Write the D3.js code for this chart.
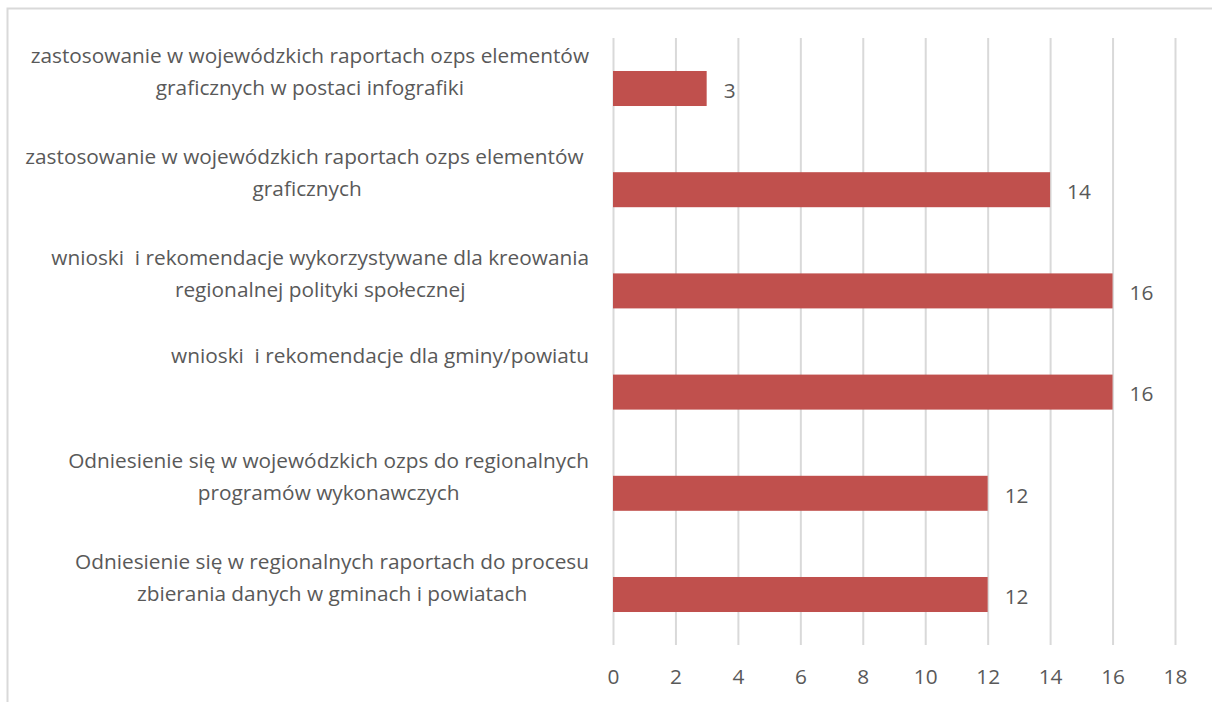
<!DOCTYPE html>
<html>
<head>
<meta charset="utf-8">
<script src="https://cdn.jsdelivr.net/npm/d3@7"></script>
<style>
  body { margin: 0; background: #fff; }
  text { font-family: "Open Sans", sans-serif; fill: #595959; white-space: pre; }
</style>
</head>
<body>
<svg id="chart" width="1212" height="702"></svg>
<script>
// dane z wykresu (od góry do dołu)
const categories = [
  ["zastosowanie w wojewódzkich raportach ozps elementów", "graficznych w postaci infografiki"],
  ["zastosowanie w wojewódzkich raportach ozps elementów ", "graficznych"],
  ["wnioski  i rekomendacje wykorzystywane dla kreowania", "regionalnej polityki społecznej"],
  ["wnioski  i rekomendacje dla gminy/powiatu"],
  ["Odniesienie się w wojewódzkich ozps do regionalnych", "programów wykonawczych"],
  ["Odniesienie się w regionalnych raportach do procesu", "zbierania danych w gminach i powiatach"]
]
const values = [3, 14, 16, 16, 12, 12]
const xTicks = [0, 2, 4, 6, 8, 10, 12, 14, 16, 18]

const svg = d3.select('#chart')
const margin = { top: 38, bottom: 57, left: 613, right: 37 }
const width = +svg.attr('width')
const height = +svg.attr('height')
const fontSize = '20.8px'
const labelRight = 589 // prawa krawędź bloku etykiet

// ramka wykresu (tylko góra i lewa strona widoczne)
svg.append('path')
  .attr('d', `M7.5,${height} V8.5 H${width}`)
  .attr('fill', 'none')
  .attr('stroke', '#d9d9d9')
  .attr('stroke-width', 2)

const x = d3.scaleLinear()
  .domain([0, 18])
  .range([margin.left, width - margin.right])

const y = d3.scaleBand()
  .domain(d3.range(values.length))
  .range([margin.top, height - margin.bottom])
  .paddingInner(0.654)
  .paddingOuter(0.326)

// siatka pionowa
svg.append('g')
  .selectAll('line')
  .data(xTicks)
  .enter()
  .append('line')
  .attr('x1', d => x(d) + 0.5)
  .attr('x2', d => x(d) + 0.5)
  .attr('y1', margin.top)
  .attr('y2', height - margin.bottom)
  .attr('stroke', '#d9d9d9')
  .attr('stroke-width', 2)

// oś X
const xAxis = d3.axisBottom(x).tickValues(xTicks).tickSize(0).tickPadding(24)
const gx = svg.append('g')
  .attr('transform', `translate(0,${height - margin.bottom})`)
  .call(xAxis)
gx.select('.domain').remove()
gx.selectAll('text')
  .style('font-family', '"Open Sans", sans-serif')
  .style('font-size', fontSize)
  .attr('fill', '#595959')

// słupki
svg.append('g')
  .selectAll('rect')
  .data(values)
  .enter()
  .append('rect')
  .attr('x', x(0))
  .attr('y', (d, i) => y(i))
  .attr('width', d => x(d) - x(0))
  .attr('height', y.bandwidth())
  .attr('fill', '#c0504d')

// etykiety wartości
svg.append('g')
  .selectAll('text')
  .data(values)
  .enter()
  .append('text')
  .attr('x', d => x(d) + 17)
  .attr('y', (d, i) => y(i) + y.bandwidth() / 2 + 2)
  .attr('dy', '0.35em')
  .style('font-size', fontSize)
  .text(d => d)

// etykiety kategorii - linie wyśrodkowane w bloku wyrównanym do prawej
const labels = svg.append('g')
  .selectAll('text')
  .data(categories)
  .enter()
  .append('text')
  .attr('text-anchor', 'middle')
  .style('font-size', fontSize)

labels.selectAll('tspan')
  .data(d => d)
  .enter()
  .append('tspan')
  .attr('x', 0)
  .attr('y', (d, i) => i * 32)
  .attr('dy', '0.35em')
  .text(d => d)

labels.attr('transform', function (d, i) {
  const w = this.getBBox().width
  const c = y(i) + y.bandwidth() / 2
  return `translate(${labelRight - w / 2},${d.length > 1 ? c - 33 : c - 36})`
})
</script>
</body>
</html>
